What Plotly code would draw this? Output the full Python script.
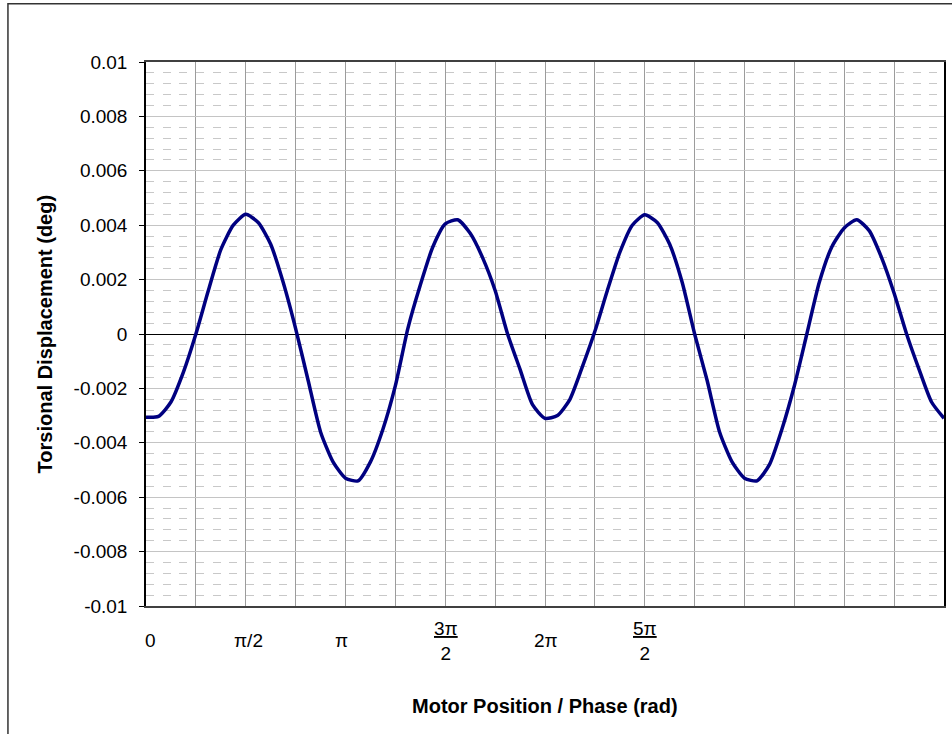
import numpy as np
import plotly.graph_objects as go

# Motor position samples: 0 .. 4π in steps of π/16
motor_position = np.arange(65) * np.pi / 16

# Torsional displacement (deg) at each sample
torsional_displacement = [
    -0.00306, -0.00303, -0.0025, -0.0014, 0.0000, 0.0016, 0.0031, 0.0040,
    0.0044, 0.0041, 0.0033, 0.0019, 0.0002, -0.0017, -0.0036, -0.0047,
    -0.0053, -0.0054, -0.0047, -0.0035, -0.0019, 0.0002, 0.0018, 0.0032,
    0.00405, 0.0042, 0.0037, 0.0028, 0.0016, 0.0000, -0.0013, -0.0026,
    -0.0031, -0.0030, -0.0024, -0.0012, 0.0001, 0.0016, 0.0030, 0.0040,
    0.00438, 0.0041, 0.0033, 0.0019, 0.0000, -0.0017, -0.0036, -0.0047,
    -0.0053, -0.0054, -0.0048, -0.0035, -0.0019, 0.0000, 0.0019, 0.0032,
    0.0039, 0.0042, 0.0038, 0.0028, 0.0015, 0.0000, -0.0013, -0.0025,
    -0.0031,
]

# Axis labels
y_tick_values = [0.01, 0.008, 0.006, 0.004, 0.002, 0, -0.002, -0.004, -0.006, -0.008, -0.01]
y_tick_text = ["0.01", "0.008", "0.006", "0.004", "0.002", "0",
               "-0.002", "-0.004", "-0.006", "-0.008", "-0.01"]
x_label_values = [0, np.pi / 2, np.pi, 3 * np.pi / 2, 2 * np.pi, 5 * np.pi / 2]
x_label_text = ["0", "π/2", "π", "<u>3π</u><br>2", "2π", "<u>5π</u><br>2"]
x_label_shift = [4, 3, -4, 1, 1, 0]
zero_tick_values = [np.pi, 2 * np.pi, 3 * np.pi]

FONT = "Liberation Sans, Arial, sans-serif"

fig = go.Figure()
fig.add_trace(go.Scatter(
    x=motor_position, y=torsional_displacement,
    mode="lines",
    line=dict(color="#000080", width=3.5, shape="spline", smoothing=0.6),
    showlegend=False, hoverinfo="skip",
))
# invisible trace to carry the secondary x-axis used for ticks along y = 0
fig.add_trace(go.Scatter(x=[0, 4 * np.pi], y=[0, 0], xaxis="x2", mode="lines",
                         line=dict(width=0), showlegend=False, hoverinfo="skip"))

fig.update_layout(
    width=952, height=734,
    margin=dict(l=146, r=6, t=62, b=128),
    paper_bgcolor="white", plot_bgcolor="white",
    font=dict(family=FONT, size=19, color="black"),
    xaxis=dict(
        range=[0, 4 * np.pi], tick0=0, dtick=np.pi / 4,
        showticklabels=False, ticks="",
        showgrid=True, gridcolor="#9c9c9c", gridwidth=1,
        showline=True, linecolor="#404040", linewidth=1.5, mirror=True,
        zeroline=False,
    ),
    xaxis2=dict(
        range=[0, 4 * np.pi], overlaying="x", anchor="free", position=0.5,
        side="bottom", tickmode="array", tickvals=zero_tick_values,
        ticks="outside", ticklen=4, tickcolor="black", tickwidth=1,
        showticklabels=False, showgrid=False, showline=False, zeroline=False,
    ),
    yaxis=dict(
        range=[-0.01, 0.01], tickmode="array",
        tickvals=y_tick_values, ticktext=y_tick_text,
        ticks="outside", ticklen=5, tickcolor="black", tickwidth=1,
        ticklabelstandoff=8,
        showgrid=True, gridcolor="#c4c4c4", gridwidth=1,
        minor=dict(dtick=0.0004, showgrid=True, gridcolor="#c8c8c8",
                   griddash="8px,8.67px", gridwidth=1, ticks=""),
        showline=True, linecolor="black", linewidth=1.5, mirror=True,
        zeroline=True, zerolinecolor="black", zerolinewidth=1.2,
    ),
)

# x-axis labels in radians, placed under the plot
for xv, txt, dx in zip(x_label_values, x_label_text, x_label_shift):
    fig.add_annotation(x=xv, xref="x", y=-0.064, yref="paper", xshift=dx,
                       text=txt, showarrow=False, xanchor="center", yanchor="middle",
                       font=dict(family=FONT, size=19, color="black"))

fig.add_annotation(x=0.5, xref="paper", y=-0.184, yref="paper",
                   text="<b>Motor Position / Phase (rad)</b>", showarrow=False,
                   xanchor="center", yanchor="middle",
                   font=dict(family=FONT, size=20, color="black"))
fig.add_annotation(x=-0.126, xref="paper", y=0.5, yref="paper",
                   text="<b>Torsional Displacement (deg)</b>", showarrow=False,
                   textangle=-90, xanchor="center", yanchor="middle",
                   font=dict(family=FONT, size=20, color="black"))

# chart-area border
fig.add_shape(type="rect", xref="paper", yref="paper",
              x0=-0.173, x1=1.03, y0=-0.26, y1=1.107,
              line=dict(color="#333333", width=1.5), layer="below")

fig.write_html("out.html")
